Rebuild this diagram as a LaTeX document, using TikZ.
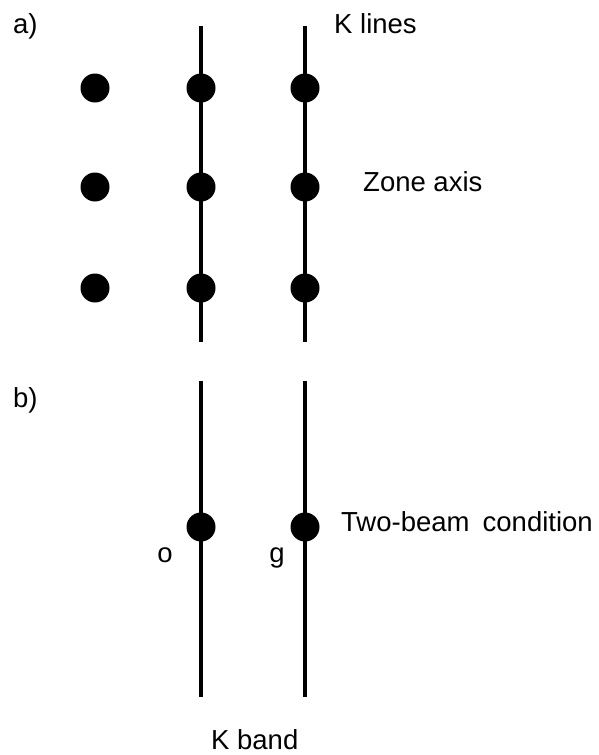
\documentclass[tikz,border=0pt]{standalone}
\usepackage{fontspec}
\setmainfont{Liberation Sans}
\begin{document}
\begin{tikzpicture}[x=1pt,y=-1pt,
  dot/.style={circle,fill=black,inner sep=0pt,minimum size=29pt},
  kline/.style={line width=3.8pt},
  lbl/.style={anchor=base west,inner sep=0pt,font=\fontsize{27.5}{33}\selectfont}]
\useasboundingbox (0,0) rectangle (598,755);
% a) lines
\coordinate (at1) at (201,26);
\coordinate (ab1) at (201,342);
\coordinate (at2) at (305,26);
\coordinate (ab2) at (305,342);
\draw[kline] (at1) -- (ab1);
\draw[kline] (at2) -- (ab2);
% a) dots
\node[dot] (d11) at (95,88) {};
\node[dot] (d12) at (201,88) {};
\node[dot] (d13) at (305,88) {};
\node[dot] (d21) at (95,187) {};
\node[dot] (d22) at (201,187) {};
\node[dot] (d23) at (305,187) {};
\node[dot] (d31) at (95,288) {};
\node[dot] (d32) at (201,288) {};
\node[dot] (d33) at (305,288) {};
% b) lines
\coordinate (bt1) at (201,381);
\coordinate (bb1) at (201,697);
\coordinate (bt2) at (305,381);
\coordinate (bb2) at (305,697);
\draw[kline] (bt1) -- (bb1);
\draw[kline] (bt2) -- (bb2);
\node[dot] (o) at (201,527) {};
\node[dot] (g) at (305,527) {};
% labels
\node[lbl] (la) at (13,33) {a)};
\node[lbl] (lb) at (13,407) {b)};
\node[lbl] (kl) at (334,33) {K lines};
\node[lbl] (za) at (363,191) {Zone axis};
\node[lbl] (tb) at (341,531) {Two-beam\hspace{0.2em} condition};
\node[lbl,anchor=base] (lo) at (165,562) {o};
\node[lbl,anchor=base] (lg) at (277,562) {g};
\node[lbl] (kb) at (211,749) {K band};
\end{tikzpicture}
\end{document}
